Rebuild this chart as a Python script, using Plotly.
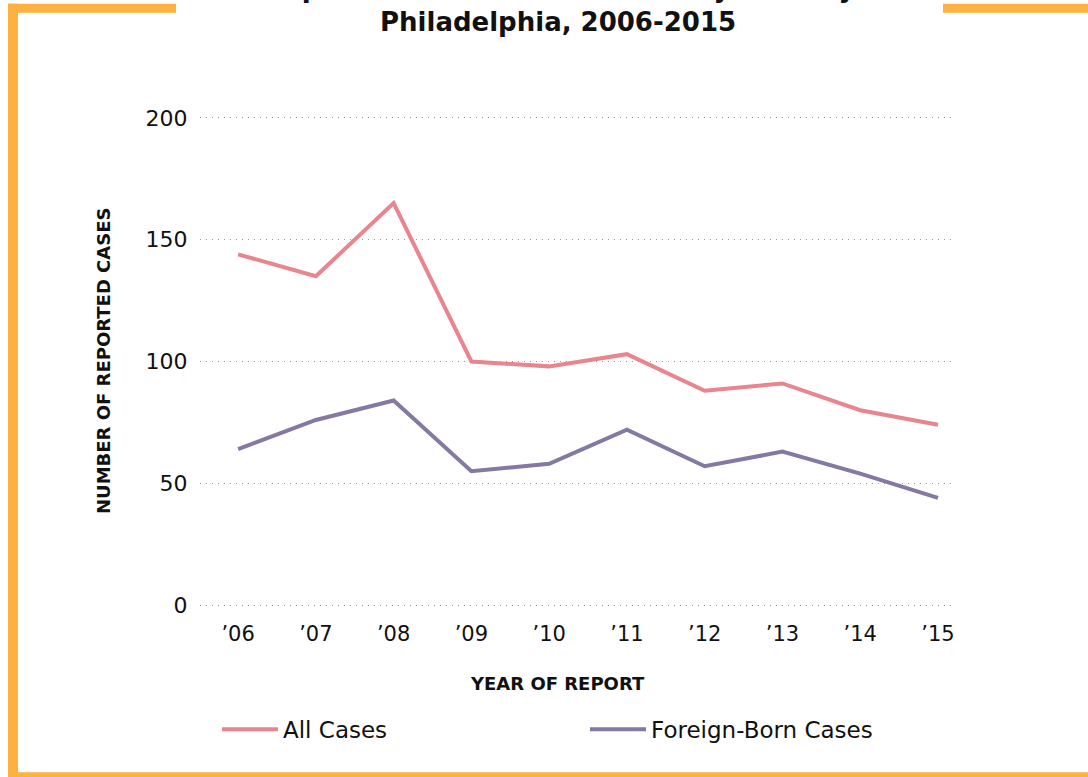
import plotly.graph_objects as go

years = ["’06", "’07", "’08", "’09", "’10", "’11", "’12", "’13", "’14", "’15"]
all_cases = [144, 135, 165, 100, 98, 103, 88, 91, 80, 74]
foreign_born = [64, 76, 84, 55, 58, 72, 57, 63, 54, 44]
y_ticks = [0, 50, 100, 150, 200]

W, H = 1088, 777
PPU = (605 - 118) / 200.0  # pixels per unit on y
YPAD = 2
L, R = 200, 952
T, B = 118 - YPAD * PPU, 605 + YPAD * PPU
FONT = "DejaVu Sans"
ORANGE = "#FDB13F"

def px(x):
    return (x - L) / (R - L)

def py(y):
    return (B - y) / (B - T)

xs = list(range(len(years)))

fig = go.Figure()
fig.add_trace(go.Scatter(x=xs, y=all_cases, mode="lines", name="All Cases",
                         line=dict(color="#E8858F", width=4)))
fig.add_trace(go.Scatter(x=xs, y=foreign_born, mode="lines", name="Foreign-Born Cases",
                         line=dict(color="#8479A3", width=4)))

shapes = []
for (x0, y0, x1, y1) in [(8, 4, 176, 13), (943, 4, 1090, 13), (8, 4, 18, 780), (8, 772, 1090, 780)]:
    shapes.append(dict(type="rect", xref="paper", yref="paper",
                       x0=px(x0), x1=px(x1), y0=py(y0), y1=py(y1),
                       fillcolor=ORANGE, line=dict(width=0), layer="above"))

annotations = [
    dict(text="Reported Tuberculosis Cases by Nativity", xref="paper", yref="paper",
         x=px(560), y=py(-12), showarrow=False, xanchor="center", yanchor="middle",
         font=dict(family=FONT, size=26, color="#111", weight="bold")),
    dict(text="Philadelphia, 2006-2015", xref="paper", yref="paper",
         x=px(558), y=py(22), showarrow=False, xanchor="center", yanchor="middle",
         font=dict(family=FONT, size=26, color="#111", weight="bold")),
    dict(text="YEAR OF REPORT", xref="paper", yref="paper",
         x=px(557), y=py(683), showarrow=False, xanchor="center", yanchor="middle",
         font=dict(family=FONT, size=18, color="#111", weight="bold")),
    dict(text="NUMBER OF REPORTED CASES", xref="paper", yref="paper",
         x=px(104), y=py(361), showarrow=False, xanchor="center", yanchor="middle",
         textangle=-90,
         font=dict(family=FONT, size=18, color="#111", weight="bold")),
]

fig.update_layout(
    width=W, height=H,
    margin=dict(l=L, r=W - R, t=T, b=H - B, autoexpand=False),
    paper_bgcolor="white", plot_bgcolor="white",
    font=dict(family=FONT, color="#111"),
    shapes=shapes, annotations=annotations,
    showlegend=True,
    legend=dict(orientation="h", x=px(217), y=py(729), xanchor="left", yanchor="middle",
                itemwidth=56, entrywidth=297, entrywidthmode="pixels",
                font=dict(family=FONT, size=23, color="#111"),
                bgcolor="rgba(0,0,0,0)"),
    xaxis=dict(range=[-0.49, 9.18], tickmode="array", tickvals=xs, ticktext=years,
               showgrid=False, zeroline=False, showline=False,
               ticks="outside", ticklen=YPAD * PPU, tickcolor="rgba(0,0,0,0)",
               tickfont=dict(family=FONT, size=21, color="#111"), fixedrange=True),
    yaxis=dict(range=[-YPAD, 200 + YPAD], tickmode="array", tickvals=y_ticks,
               ticktext=[str(v) for v in y_ticks],
               showgrid=True, gridcolor="#999999", gridwidth=1, griddash="1px,5px",
               zeroline=False, showline=False,
               ticks="outside", ticklen=7, tickcolor="rgba(0,0,0,0)",
               tickfont=dict(family=FONT, size=22, color="#111"), fixedrange=True),
)

fig.write_html("out.html", config={"displayModeBar": False},
               post_script="document.body.style.margin='0';document.body.style.overflow='hidden';")
